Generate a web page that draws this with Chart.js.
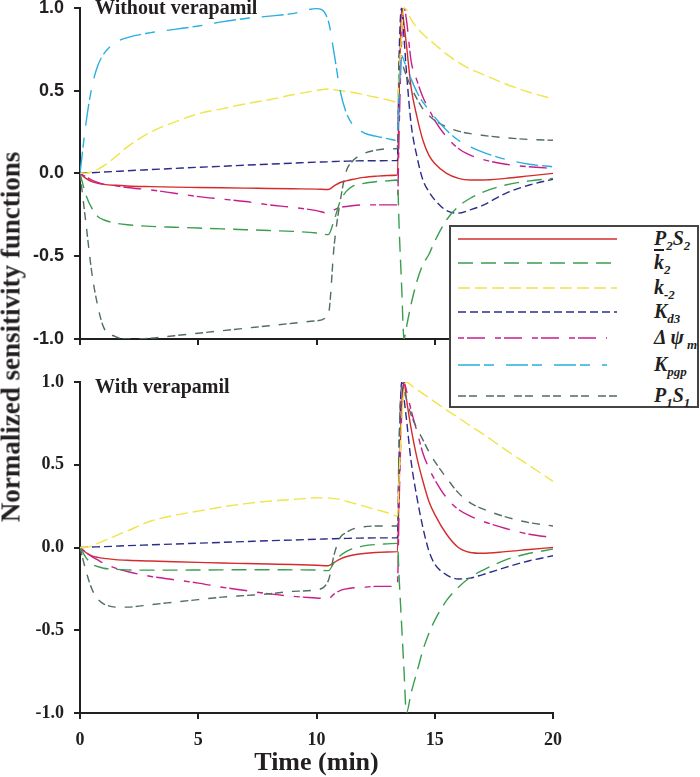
<!DOCTYPE html>
<html>
<head>
<meta charset="utf-8">
<script src="https://cdn.jsdelivr.net/npm/chart.js@4.4.0/dist/chart.umd.min.js"></script>
<style>
  body { margin: 0; background: #fff; width: 700px; height: 777px; position: relative; overflow: hidden; }
  #topWrap { position: absolute; left: 0; top: -13px; width: 700px; height: 373px; }
  #botWrap { position: absolute; left: 0; top: 360px; width: 700px; height: 417px; }
  #yTitle {
    position: absolute; left: 11px; top: 337px;
    transform: translate(-50%, -50%) rotate(-90deg);
    white-space: nowrap; font: bold 27px "Liberation Serif", serif; color: #231f20;
  }
  #legend { position: absolute; left: 449px; top: 225px; background: #fff; }
</style>
</head>
<body>
<div id="topWrap"><canvas id="topChart" width="700" height="373"></canvas></div>
<div id="botWrap"><canvas id="botChart" width="700" height="417"></canvas></div>
<div id="yTitle">Normalized sensitivity functions</div>
<svg id="legend" width="251" height="183"></svg>
<script>
// time grid (min)
const times = [0, 0.25, 0.5, 0.75, 1, 1.5, 2, 3, 4, 5, 6, 7, 8, 9, 10, 10.5, 10.75, 11, 11.25, 11.5,
  12, 12.5, 13, 13.42, 13.5, 13.6, 13.7, 13.8, 14, 14.25, 14.5, 14.75, 15, 15.5, 16, 16.5, 17, 18, 19, 20];

// Without verapamil
const p2s2Top = [0, -0.03, -0.05, -0.06, -0.066, -0.072, -0.076, -0.08, -0.083, -0.085,
  -0.087, -0.089, -0.091, -0.093, -0.095, -0.097, -0.075, -0.055, -0.045, -0.037,
  -0.024, -0.017, -0.013, -0.01, 0.5, 1.0, 0.9, 0.78, 0.52, 0.34,
  0.2, 0.11, 0.06, 0.0, -0.03, -0.04, -0.04, -0.03, -0.015, 0.0];
const k2barTop = [0, -0.13, -0.21, -0.26, -0.28, -0.3, -0.31, -0.32, -0.325, -0.33,
  -0.335, -0.34, -0.345, -0.35, -0.36, -0.37, -0.28, -0.17, -0.11, -0.08,
  -0.06, -0.05, -0.045, -0.04, -0.35, -0.68, -1.0, -0.93, -0.79, -0.65,
  -0.55, -0.49, -0.41, -0.28, -0.2, -0.15, -0.115, -0.07, -0.045, -0.03];
const km2Top = [0, 0.0, 0.01, 0.025, 0.045, 0.1, 0.16, 0.25, 0.31, 0.36,
  0.39, 0.42, 0.445, 0.475, 0.5, 0.51, 0.505, 0.5, 0.495, 0.49,
  0.475, 0.46, 0.445, 0.43, 0.6, 0.85, 1.0, 0.99, 0.93, 0.88,
  0.84, 0.81, 0.78, 0.72, 0.67, 0.63, 0.6, 0.54, 0.49, 0.45];
const kd3Top = [0, 0.002, 0.004, 0.006, 0.008, 0.012, 0.016, 0.023, 0.03, 0.037,
  0.043, 0.05, 0.056, 0.062, 0.068, 0.07, 0.072, 0.073, 0.074, 0.075,
  0.076, 0.076, 0.077, 0.077, 0.75, 1.0, 0.82, 0.62, 0.3, 0.1,
  -0.04, -0.11, -0.16, -0.225, -0.24, -0.22, -0.195, -0.12, -0.07, -0.035];
const dpsiTop = [0, -0.02, -0.04, -0.055, -0.065, -0.075, -0.085, -0.1, -0.12, -0.14,
  -0.155, -0.17, -0.19, -0.205, -0.225, -0.24, -0.22, -0.205, -0.2, -0.195,
  -0.19, -0.19, -0.19, -0.19, 0.3, 0.8, 1.0, 0.93, 0.68, 0.56,
  0.46, 0.39, 0.32, 0.22, 0.15, 0.11, 0.085, 0.055, 0.04, 0.03];
const kpgpTop = [0, 0.3, 0.52, 0.65, 0.72, 0.79, 0.82, 0.85, 0.87, 0.89,
  0.915, 0.935, 0.95, 0.965, 0.995, 0.92, 0.72, 0.5, 0.37, 0.3,
  0.245, 0.225, 0.21, 0.2, 0.5, 0.71, 0.68, 0.64, 0.57, 0.49,
  0.43, 0.385, 0.34, 0.26, 0.2, 0.16, 0.13, 0.085, 0.055, 0.04];
const p1s1Top = [0, -0.3, -0.6, -0.8, -0.93, -0.985, -1.0, -0.995, -0.98, -0.965,
  -0.95, -0.935, -0.92, -0.905, -0.89, -0.85, -0.43, -0.17, 0.01, 0.07,
  0.12, 0.14, 0.148, 0.15, 0.72, 0.68, 0.63, 0.59, 0.52, 0.45,
  0.39, 0.35, 0.32, 0.28, 0.255, 0.24, 0.23, 0.215, 0.205, 0.2];

// With verapamil
const p2s2Bot = [0, -0.03, -0.05, -0.06, -0.066, -0.073, -0.077, -0.082, -0.086, -0.09,
  -0.094, -0.097, -0.1, -0.103, -0.107, -0.11, -0.09, -0.07, -0.056, -0.047,
  -0.036, -0.03, -0.027, -0.025, 0.4, 0.85, 1.0, 0.9, 0.72, 0.54,
  0.4, 0.28, 0.2, 0.08, 0.0, -0.03, -0.035, -0.025, -0.012, 0.0];
const k2barBot = [0, -0.06, -0.1, -0.115, -0.125, -0.132, -0.135, -0.137, -0.137, -0.136,
  -0.135, -0.134, -0.134, -0.135, -0.136, -0.14, -0.09, -0.05, -0.025, -0.008,
  0.01, 0.018, 0.022, 0.025, -0.2, -0.47, -0.74, -1.0, -0.88, -0.75,
  -0.62, -0.52, -0.44, -0.32, -0.24, -0.18, -0.14, -0.075, -0.035, -0.01];
const km2Bot = [0, 0.0, 0.01, 0.025, 0.04, 0.07, 0.1, 0.16, 0.195, 0.22,
  0.245, 0.265, 0.28, 0.29, 0.3, 0.3, 0.295, 0.29, 0.28, 0.27,
  0.25, 0.23, 0.21, 0.19, 0.45, 0.75, 0.95, 1.0, 0.98, 0.955,
  0.93, 0.905, 0.88, 0.83, 0.785, 0.735, 0.69, 0.59, 0.495, 0.4];
const kd3Bot = [0, 0.001, 0.003, 0.004, 0.005, 0.008, 0.011, 0.016, 0.021, 0.026,
  0.031, 0.036, 0.041, 0.045, 0.05, 0.052, 0.053, 0.054, 0.055, 0.056,
  0.057, 0.058, 0.058, 0.058, 0.6, 1.0, 0.9, 0.78, 0.52, 0.3,
  0.12, -0.02, -0.1, -0.165, -0.19, -0.185, -0.165, -0.12, -0.08, -0.05];
const dpsiBot = [0, -0.03, -0.055, -0.075, -0.095, -0.125, -0.145, -0.175, -0.195, -0.215,
  -0.24, -0.26, -0.28, -0.295, -0.305, -0.31, -0.28, -0.26, -0.25, -0.245,
  -0.24, -0.235, -0.235, -0.235, 0.3, 0.8, 1.0, 0.95, 0.83, 0.7,
  0.57, 0.48, 0.41, 0.3, 0.23, 0.19, 0.16, 0.115, 0.08, 0.06];
const p1s1Bot = [0, -0.14, -0.25, -0.31, -0.34, -0.36, -0.36, -0.345, -0.33, -0.315,
  -0.3, -0.29, -0.28, -0.265, -0.255, -0.2, -0.04, 0.06, 0.09, 0.11,
  0.125, 0.13, 0.13, 0.13, 0.7, 0.97, 0.95, 0.9, 0.8, 0.72,
  0.65, 0.58, 0.52, 0.42, 0.33, 0.27, 0.235, 0.185, 0.15, 0.13];

const xTicks = [0, 5, 10, 15, 20];
const yTicks = [-1, -0.5, 0, 0.5, 1];

// line styles per parameter
const styles = {
  p2s2: { color: 'rgb(212,44,44)',  dash: [] },
  k2bar: { color: 'rgb(58,158,78)', dash: [15, 8] },
  km2:  { color: 'rgb(240,228,72)', dash: [12, 5] },
  kd3:  { color: 'rgb(44,44,138)',  dash: [8, 4] },
  dpsi: { color: 'rgb(200,30,140)', dash: [6, 3, 18, 10] },
  kpgp: { color: 'rgb(40,175,225)', dash: [22, 4, 10, 12] },
  p1s1: { color: 'rgb(82,110,92)',  dash: [8, 3, 8, 9] }
};

const legendItems = [
  { key: 'p2s2', parts: [['P'], ['2', 'sub'], ['S'], ['2', 'sub']] },
  { key: 'k2bar', parts: [['k', 'bar'], ['2', 'sub']] },
  { key: 'km2', parts: [['k'], ['-2', 'sub']] },
  { key: 'kd3', parts: [['K'], ['d3', 'sub']] },
  { key: 'dpsi', parts: [['\u0394 \u03C8'], [' m', 'sub']] },
  { key: 'kpgp', parts: [['K'], ['pgp', 'sub']] },
  { key: 'p1s1', parts: [['P'], ['1', 'sub'], ['S'], ['1', 'sub']] }
];

const ink = '#231f20';

function dataset(key, values) {
  return {
    label: key,
    data: times.map((t, i) => ({ x: t, y: values[i] })),
    borderColor: styles[key].color,
    borderDash: styles[key].dash,
    borderWidth: 1.4,
    pointRadius: 0,
    fill: false,
    cubicInterpolationMode: 'monotone'
  };
}

const panelLabel = {
  id: 'panelLabel',
  afterDraw(chart, args, opts) {
    const ctx = chart.ctx;
    ctx.save();
    ctx.font = 'bold 20px "Liberation Serif"';
    ctx.fillStyle = ink;
    ctx.textBaseline = 'alphabetic';
    ctx.fillText(opts.text, chart.chartArea.left + 15, chart.chartArea.top + opts.dy);
    ctx.restore();
  }
};

function makeOptions(cfg) {
  return {
    responsive: false,
    animation: false,
    layout: { padding: { top: cfg.padTop, right: 147, left: 0, bottom: 0 } },
    plugins: {
      legend: { display: false },
      tooltip: { enabled: false },
      panelLabel: { text: cfg.label, dy: cfg.labelDy }
    },
    scales: {
      x: {
        type: 'linear', min: 0, max: 20,
        afterBuildTicks: s => { s.ticks = xTicks.map(v => ({ value: v })); },
        afterFit: s => { s.height = cfg.xHeight; },
        border: { color: ink, width: 2 },
        grid: { drawOnChartArea: false, drawTicks: true, tickLength: 6, color: ink, lineWidth: 2 },
        ticks: {
          display: cfg.xLabels, padding: 11, color: ink,
          font: { family: 'Liberation Serif', size: 18, weight: 'bold' }
        },
        title: {
          display: cfg.xLabels, text: 'Time (min)', color: ink, padding: { top: 0, bottom: -2 },
          font: { family: 'Liberation Serif', size: 26, weight: 'bold' }
        }
      },
      y: {
        type: 'linear', min: -1, max: 1,
        afterBuildTicks: s => { s.ticks = yTicks.map(v => ({ value: v })); },
        afterFit: s => { s.width = 80; },
        border: { color: ink, width: 2 },
        grid: { drawOnChartArea: false, drawTicks: true, tickLength: 6, color: ink, lineWidth: 2 },
        ticks: {
          padding: 10, color: ink,
          callback: v => v.toFixed(1),
          font: { family: cfg.tickFont, size: 18, weight: 'bold' }
        }
      }
    }
  };
}

new Chart(document.getElementById('topChart'), {
  type: 'line',
  data: {
    datasets: [
      dataset('kpgp', kpgpTop),
      dataset('km2', km2Top),
      dataset('p1s1', p1s1Top),
      dataset('k2bar', k2barTop),
      dataset('dpsi', dpsiTop),
      dataset('kd3', kd3Top),
      dataset('p2s2', p2s2Top)
    ]
  },
  options: makeOptions({ padTop: 20, xHeight: 21, xLabels: false, tickFont: 'Liberation Sans',
    label: 'Without verapamil', labelDy: 6 }),
  plugins: [panelLabel]
});

new Chart(document.getElementById('botChart'), {
  type: 'line',
  data: {
    datasets: [
      dataset('km2', km2Bot),
      dataset('p1s1', p1s1Bot),
      dataset('k2bar', k2barBot),
      dataset('dpsi', dpsiBot),
      dataset('kd3', kd3Bot),
      dataset('p2s2', p2s2Bot)
    ]
  },
  options: makeOptions({ padTop: 22, xHeight: 64, xLabels: true, tickFont: 'Liberation Serif',
    label: 'With verapamil', labelDy: 11 }),
  plugins: [panelLabel]
});

// legend box
const NS = 'http://www.w3.org/2000/svg';
const svg = document.getElementById('legend');
const rowY = [14, 38, 63, 87, 113, 140, 171];
const lineEnd = [168, 168, 168, 168, 158, 158, 168];
function el(name, attrs) {
  const e = document.createElementNS(NS, name);
  Object.entries(attrs).forEach(([k, v]) => e.setAttribute(k, v));
  return e;
}
svg.appendChild(el('rect', { x: 1, y: 1, width: 248, height: 181, fill: '#fff', stroke: '#444', 'stroke-width': 2 }));
legendItems.forEach((item, i) => {
  const st = styles[item.key];
  svg.appendChild(el('line', {
    x1: 9, x2: lineEnd[i], y1: rowY[i], y2: rowY[i], stroke: st.color, 'stroke-width': 1.5,
    'stroke-dasharray': st.dash.length ? st.dash.join(' ') : 'none'
  }));
  const txt = el('text', {
    x: 205, y: rowY[i] + 6, fill: ink, 'font-family': 'Liberation Serif',
    'font-weight': 'bold', 'font-style': 'italic', 'font-size': 20
  });
  let shifted = false;
  item.parts.forEach(([s, kind]) => {
    const sp = el('tspan', {});
    sp.textContent = s;
    if (kind === 'sub') {
      sp.setAttribute('font-size', 13);
      if (!shifted) { sp.setAttribute('dy', 5); shifted = true; }
    } else {
      if (shifted) { sp.setAttribute('dy', -5); shifted = false; }
      if (kind === 'bar') sp.setAttribute('text-decoration', 'overline');
    }
    txt.appendChild(sp);
  });
  svg.appendChild(txt);
});
</script>
</body>
</html>
